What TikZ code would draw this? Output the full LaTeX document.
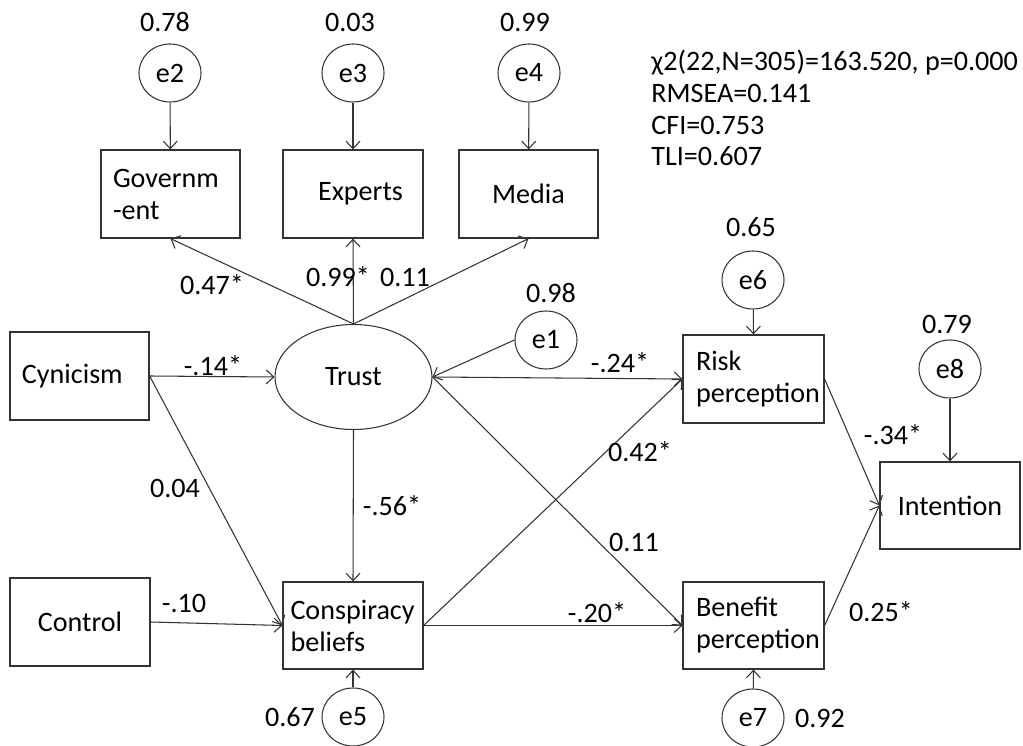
\documentclass[tikz,border=0pt]{standalone}
\usepackage{fontspec}
\setmainfont{Carlito}
\usetikzlibrary{arrows.meta,shapes.geometric,positioning}

\begin{document}
\begin{tikzpicture}[
  font=\fontsize{16}{18.2}\selectfont,
  var/.style={draw=black!80, line width=0.7pt, minimum width=2.80cm, minimum height=1.76cm, align=center, inner sep=2pt},
  lvar/.style={var, text width=2.3cm, align=left},
  err/.style={draw=black!80, ellipse, line width=0.6pt, minimum width=1.24cm, minimum height=1.16cm, inner sep=0pt},
  arr/.style={line width=0.6pt, draw=black!80, -{Straight Barb[length=1.5mm,width=2.8mm]}},
  coef/.style={inner sep=1pt}
]
\useasboundingbox (0,0) rectangle (20.46,14.92);

% indicators of trust
\node [lvar, minimum width=2.78cm] (gov) at (3.41,11.04) {Governm\\-ent};
\node [var] (exp) at (7.06,11.04) {\hspace{0.3cm}Experts};
\node [var, minimum width=2.78cm] (med) at (10.57,11.04) {Media};

% exogenous variables
\node [lvar, minimum width=2.78cm] (cyn) at (1.59,7.40) {Cynicism};
\node [var] (ctrl) at (1.60,2.48) {Control};

% latent and endogenous variables
\node [draw=black!80, ellipse, line width=0.6pt, minimum width=3.14cm, minimum height=2.10cm] (trust) at (7.07,7.38) {Trust};
\node [lvar, text width=2.5cm, minimum height=1.74cm] (consp) at (7.06,2.41) {Conspiracy\\beliefs};
\node [lvar, minimum width=2.82cm] (risk) at (15.07,7.34) {Risk\\perception};
\node [lvar, minimum width=2.82cm, minimum height=1.74cm] (bene) at (15.07,2.41) {Benefit\\perception};
\node [var, minimum height=1.74cm] (intent) at (19.00,4.81) {Intention};

% error terms
\node [err] (e1) at (10.92,8.12) {e1};
\node [err] (e2) at (3.40,13.46) {e2};
\node [err] (e3) at (7.06,13.46) {e3};
\node [err] (e4) at (10.58,13.46) {e4};
\node [err] (e5) at (7.06,0.58) {e5};
\node [err] (e6) at (15.06,9.32) {e6};
\node [err] (e7) at (15.06,0.56) {e7};
\node [err] (e8) at (19.00,7.54) {e8};

% error variances
\node [coef] (v2) at (3.30,14.48) {0.78};
\node [coef] (v3) at (7.00,14.48) {0.03};
\node [coef] (v4) at (10.50,14.48) {0.99};
\node [coef] (v1) at (11.02,9.06) {0.98};
\node [coef] (v6) at (15.02,10.38) {0.65};
\node [coef] (v8) at (18.94,8.44) {0.79};
\node [coef] (v5) at (5.80,0.58) {0.67};
\node [coef] (v7) at (16.40,0.56) {0.92};

% fit indices
\node [anchor=base west, align=left, inner sep=0pt] (fit) at (13.02,11.60)
  {χ2(22,N=305)=163.520, p=0.000\\RMSEA=0.141\\CFI=0.753\\TLI=0.607};

% paths
\draw [arr] (e2) -- (gov);
\draw [arr] (e3) -- (exp);
\draw [arr] (e4) -- (med);
\draw [arr] (trust.north) -- (gov.south);
\draw [arr] (trust.north) -- (exp.south);
\draw [arr] (trust.north) -- (med.south);
\draw [arr] (cyn.east) -- (trust.west);
\draw [arr] (cyn.east) -- (consp.west);
\draw [arr] (ctrl.east) -- (consp.west);
\draw [arr] (trust.south) -- (consp.north);
\draw [arr] (e5) -- (consp.south);
\draw [arr] (e1.west) -- (trust.east);
\draw [arr] (trust.east) -- (risk.west);
\draw [arr] (trust.east) -- (bene.west);
\draw [arr] (consp.east) -- (risk.west);
\draw [arr] (consp.east) -- (bene.west);
\draw [arr] (e6) -- (risk.north);
\draw [arr] (e7) -- (bene.south);
\draw [arr] (risk.east) -- (intent.west);
\draw [arr] (bene.east) -- (intent.west);
\draw [arr] (e8) -- (intent.north);

% coefficients
\node [coef] (c1) at (4.24,9.22) {0.47*};
\node [coef] (c2) at (6.76,9.38) {0.99*};
\node [coef] (c3) at (8.10,9.38) {0.11};
\node [coef] (c4) at (4.26,7.60) {-.14*};
\node [coef] (c5) at (3.50,5.16) {0.04};
\node [coef] (c6) at (3.68,2.86) {-.10};
\node [coef] (c7) at (7.84,4.80) {-.56*};
\node [coef] (c8) at (12.40,7.66) {-.24*};
\node [coef] (c9) at (12.80,5.88) {0.42*};
\node [coef] (c10) at (12.68,4.08) {0.11};
\node [coef] (c11) at (11.94,2.66) {-.20*};
\node [coef] (c12) at (17.86,6.22) {-.34*};
\node [coef] (c13) at (17.62,2.68) {0.25*};
\end{tikzpicture}
\end{document}
